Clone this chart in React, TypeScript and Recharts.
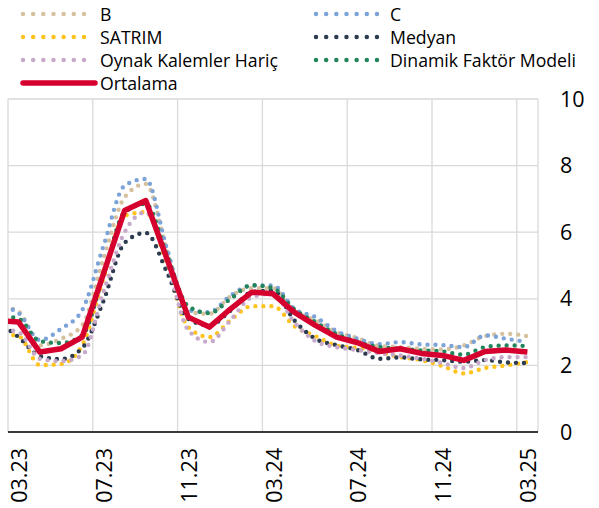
import React from 'react';
import { ComposedChart, Line, XAxis, YAxis, CartesianGrid, Legend } from 'recharts';

// Months (first entry is the month before the axis starts; its line runs off the left edge)
const months = [
  '02.23', '03.23', '04.23', '05.23', '06.23', '07.23', '08.23', '09.23', '10.23', '11.23', '12.23',
  '01.24', '02.24', '03.24', '04.24', '05.24', '06.24', '07.24', '08.24', '09.24', '10.24', '11.24', '12.24',
  '01.25', '02.25', '03.25',
];
const tickLabels = ['03.23', '07.23', '11.23', '03.24', '07.24', '11.24', '03.25'];
const yTicks = [0, 2, 4, 6, 8, 10];

const seriesB = [3.8, 3.62, 2.6, 2.8, 3.2, 5.2, 7.05, 7.45, 5.45, 3.6, 3.55, 4.08, 4.32, 4.32, 3.63, 3.36, 3.0, 2.82, 2.58, 2.55, 2.5, 2.48, 2.6, 2.88, 2.95, 2.88];
const seriesC = [3.8, 3.57, 2.76, 3.1, 3.66, 5.58, 7.4, 7.6, 5.5, 3.66, 3.6, 4.1, 4.4, 4.4, 3.7, 3.45, 3.03, 2.8, 2.64, 2.7, 2.63, 2.61, 2.55, 2.9, 2.8, 2.7];
const seriesSatrim = [2.95, 2.88, 2.01, 2.04, 2.6, 4.6, 6.5, 6.6, 5.0, 3.15, 2.85, 3.36, 3.78, 3.78, 3.18, 2.88, 2.6, 2.52, 2.4, 2.25, 2.16, 1.98, 1.76, 1.92, 2.0, 2.1];
const seriesMedyan = [3.3, 2.85, 2.28, 2.19, 2.52, 3.93, 5.68, 5.98, 4.8, 3.4, 3.2, 3.65, 4.2, 4.25, 3.36, 2.8, 2.61, 2.46, 2.2, 2.24, 2.18, 2.16, 2.11, 2.16, 2.09, 2.07];
const seriesOynak = [3.1, 3.0, 2.2, 2.13, 2.3, 4.2, 6.0, 6.6, 5.1, 3.06, 2.7, 3.36, 4.05, 4.15, 3.3, 2.73, 2.55, 2.46, 2.37, 2.3, 2.2, 2.07, 1.92, 2.16, 2.25, 2.25];
const seriesDfm = [3.5, 3.4, 2.73, 2.67, 2.9, 4.7, 6.6, 6.85, 5.3, 3.78, 3.57, 4.0, 4.41, 4.32, 3.69, 3.3, 2.94, 2.7, 2.55, 2.5, 2.45, 2.42, 2.32, 2.55, 2.6, 2.58];
const seriesOrtalama = [3.35, 3.3, 2.4, 2.5, 2.85, 4.75, 6.65, 6.95, 5.2, 3.45, 3.15, 3.7, 4.2, 4.15, 3.6, 3.2, 2.85, 2.68, 2.42, 2.5, 2.36, 2.3, 2.15, 2.42, 2.46, 2.4];

const series = [
  { key: 'B', name: 'B', color: '#D6C19E', values: seriesB, dotted: true },
  { key: 'C', name: 'C', color: '#7BA3D7', values: seriesC, dotted: true },
  { key: 'SATRIM', name: 'SATRIM', color: '#FFC31F', values: seriesSatrim, dotted: true },
  { key: 'Medyan', name: 'Medyan', color: '#2C3B50', values: seriesMedyan, dotted: true },
  { key: 'Oynak', name: 'Oynak Kalemler Hariç', color: '#C7A9CA', values: seriesOynak, dotted: true },
  { key: 'DFM', name: 'Dinamik Faktör Modeli', color: '#22845A', values: seriesDfm, dotted: true },
  { key: 'Ortalama', name: 'Ortalama', color: '#D6002E', values: seriesOrtalama, dotted: false },
];

const data = months.map((m, i) => {
  const row: Record<string, number | string> = { x: i - 1, month: m };
  series.forEach((s) => {
    row[s.key] = s.values[i];
  });
  return row;
});

const labelTicks = tickLabels.map((l) => months.indexOf(l) - 1);
const gridTicks = labelTicks.map((t) => t - 0.5);
const xDomain = [-0.5, months.length - 2 + 0.5];

const FONT = "'Open Sans', 'Noto Sans', sans-serif";

const XTick = (props: any) => {
  const { x, y, payload } = props;
  const label = months[payload.value + 1];
  return (
    <text
      x={x}
      y={y}
      transform={`rotate(-90 ${x} ${y})`}
      textAnchor="end"
      dominantBaseline="central"
      fontSize={21.5}
      fontFamily={FONT}
      fill="#000"
    >
      {label}
    </text>
  );
};

const LegendContent = () => (
  <svg width={599} height={99} style={{ display: 'block' }}>
    {series.map((s, idx) => {
      const col = idx % 2;
      const row = Math.floor(idx / 2);
      const x0 = col ? 316 : 23;
      const tx = col ? 390 : 100;
      const y = 14 + row * 23;
      return (
        <g key={s.key}>
          {s.dotted ? (
            <line x1={x0} x2={x0 + 61} y1={y} y2={y} stroke={s.color} strokeWidth={4.5}
              strokeDasharray="0 10.16" strokeLinecap="round" />
          ) : (
            <line x1={x0} x2={x0 + 72} y1={y} y2={y} stroke={s.color} strokeWidth={5.5}
              strokeLinecap="round" />
          )}
          <text x={tx} y={y} dominantBaseline="central" fontSize={17.7} fontFamily={FONT} fill="#000">
            {s.name}
          </text>
        </g>
      );
    })}
  </svg>
);

export default function App() {
  return (
    <div style={{ position: 'absolute', left: 0, top: 0, width: 599, height: 508, background: '#fff' }}>
      <ComposedChart width={599} height={508} data={data} margin={{ top: 99, left: 8, right: 0, bottom: 0 }}>
        <CartesianGrid xAxisId="grid" stroke="#D9D9D9" strokeWidth={1.3} />
        <XAxis
          dataKey="x"
          type="number"
          domain={xDomain}
          allowDataOverflow
          ticks={labelTicks}
          interval={0}
          tickLine={false}
          tickSize={0}
          tickMargin={16}
          axisLine={{ stroke: '#000', strokeWidth: 1.3 }}
          height={76}
          tick={<XTick />}
        />
        <XAxis xAxisId="grid" dataKey="x" type="number" domain={xDomain} allowDataOverflow ticks={gridTicks} hide />
        <YAxis
          orientation="right"
          domain={[0, 10]}
          ticks={yTicks}
          axisLine={false}
          tickLine={false}
          tickSize={0}
          tickMargin={22}
          width={61}
          tick={{ fontSize: 21.5, fill: '#000', fontFamily: FONT }}
        />
        <Legend
          verticalAlign="middle"
          align="center"
          layout="horizontal"
          wrapperStyle={{ top: 0, left: 0, width: 599, height: 99 }}
          content={() => <LegendContent />}
        />
        {series.map((s) =>
          s.dotted ? (
            <Line
              key={s.key}
              dataKey={s.key}
              name={s.name}
              type="monotone"
              stroke={s.color}
              strokeWidth={4.4}
              strokeDasharray="0 8"
              strokeLinecap="round"
              dot={false}
              activeDot={false}
              isAnimationActive={false}
            />
          ) : (
            <Line
              key={s.key}
              dataKey={s.key}
              name={s.name}
              type="linear"
              stroke={s.color}
              strokeWidth={5.5}
              strokeLinejoin="round"
              dot={false}
              activeDot={false}
              isAnimationActive={false}
            />
          )
        )}
      </ComposedChart>
    </div>
  );
}
